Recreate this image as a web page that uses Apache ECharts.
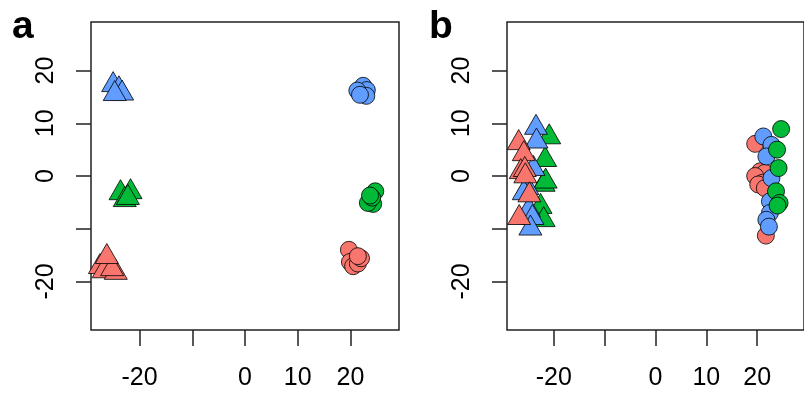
<!DOCTYPE html>
<html>
<head>
<meta charset="utf-8">
<script src="https://cdn.jsdelivr.net/npm/echarts@6/dist/echarts.min.js"></script>
<style>
  html, body { margin: 0; padding: 0; background: #fff; }
  #chart { width: 804px; height: 394px; }
</style>
</head>
<body>
<div id="chart"></div>
<script>
// tick positions and the labels R kept (the -10 label was dropped)
const tickValues = [-20, -10, 0, 10, 20];
const labelValues = [-20, 0, 10, 20];
const axisMin = -29.2, axisMax = 29.2;

const red = '#F8766D', green = '#00BA38', blue = '#619CFF';

// panel a
const aBlueTri = [[-25.0, 17.9], [-23.9, 17.1], [-23.3, 16.3], [-24.7, 16.2]];
const aGreenTri = [[-23.6, -2.6], [-21.7, -2.4], [-22.8, -3.9], [-22.2, -3.5]];
const aRedTri = [[-27.5, -16.6], [-26.8, -17.4], [-24.5, -17.7], [-25.2, -17.0], [-26.2, -14.7]];
const aBlueCirc = [[22.4, 17.1], [23.1, 16.3], [21.3, 16.2], [23.0, 15.2], [21.8, 15.4]];
const aGreenCirc = [[24.7, -2.9], [24.3, -5.3], [23.3, -5.1], [24.1, -4.1], [23.7, -3.7]];
const aRedCirc = [[19.7, -14.0], [19.9, -16.3], [20.5, -17.1], [21.4, -16.6], [22.0, -15.6], [21.4, -15.2]];

// panel b
const bGreenTri = [[-20.9, 8.0], [-21.7, 3.7], [-22.0, -1.0], [-22.6, -5.2], [-22.0, -7.7], [-21.6, -0.4]];
const bBlueTri = [[-23.5, 9.8], [-23.4, 7.2], [-24.0, 2.0], [-25.2, -1.6], [-25.9, -2.6], [-24.9, -5.8], [-24.2, -7.3], [-24.6, -9.3]];
const bRedTri = [[-26.9, 6.9], [-25.9, 4.8], [-26.5, 1.4], [-25.7, 1.8], [-25.6, 0.6], [-24.8, -3.0], [-26.8, -7.3]];
const bRedCirc = [[19.6, 6.1], [20.6, 0.9], [21.5, 0.6], [19.6, 0.0], [21.0, -1.3], [20.2, -1.6], [21.5, -2.3], [21.7, -11.3]];
const bGreenCirc = [[24.7, 8.9], [23.9, 5.0], [24.2, 1.5], [23.7, -2.9], [24.4, -5.1], [24.0, -5.6]];
const bBlueCirc = [[21.2, 7.5], [22.8, 5.9], [21.8, 3.7], [22.8, -0.4], [22.5, -4.8], [22.5, -7.0], [21.8, -8.3], [22.3, -9.6]];

const chart = echarts.init(document.getElementById('chart'));

function xAxisFor(i) {
  return {
    type: 'value', gridIndex: i, min: axisMin, max: axisMax,
    axisLine: { show: false, onZero: false },
    axisTick: { show: true, customValues: tickValues, length: 16, lineStyle: { color: '#222', width: 1.5 } },
    axisLabel: { customValues: labelValues, margin: 36, fontSize: 25, color: '#000', fontFamily: 'Liberation Sans' },
    splitLine: { show: false }
  };
}
function yAxisFor(i) {
  return {
    type: 'value', gridIndex: i, min: axisMin, max: axisMax,
    axisLine: { show: false, onZero: false },
    axisTick: { show: true, customValues: tickValues, length: 15, lineStyle: { color: '#222', width: 1.5 } },
    axisLabel: { customValues: labelValues, margin: 32, rotate: 90, fontSize: 25, color: '#000', fontFamily: 'Liberation Sans' },
    splitLine: { show: false }
  };
}

function tri(data, color, i) {
  return {
    type: 'scatter', data: data, xAxisIndex: i, yAxisIndex: i,
    symbol: 'triangle', symbolSize: [23, 20],
    itemStyle: { color: color, borderColor: '#000', borderWidth: 0.8, opacity: 1 }
  };
}
function circ(data, color, i) {
  return {
    type: 'scatter', data: data, xAxisIndex: i, yAxisIndex: i,
    symbol: 'circle', symbolSize: 17,
    itemStyle: { color: color, borderColor: '#000', borderWidth: 0.8, opacity: 1 }
  };
}

let option = {
  animation: false,
  grid: [
    { left: 91, top: 22, width: 308, height: 308, show: true, borderColor: '#222', borderWidth: 1.5 },
    { left: 507, top: 22, width: 308, height: 308, show: true, borderColor: '#222', borderWidth: 1.5 }
  ],
  xAxis: [xAxisFor(0), xAxisFor(1)],
  yAxis: [yAxisFor(0), yAxisFor(1)],
  graphic: [
    { type: 'text', left: 12, top: 8, style: { text: 'a', font: 'bold 39px "Liberation Sans"', fill: '#000' } },
    { type: 'text', left: 429, top: 8, style: { text: 'b', font: 'bold 39px "Liberation Sans"', fill: '#000' } }
  ],
  series: [
    tri(aBlueTri, blue, 0), tri(aGreenTri, green, 0), tri(aRedTri, red, 0),
    circ(aBlueCirc, blue, 0), circ(aGreenCirc, green, 0), circ(aRedCirc, red, 0),
    tri(bGreenTri, green, 1), tri(bBlueTri, blue, 1), tri(bRedTri, red, 1),
    circ(bRedCirc, red, 1), circ(bBlueCirc, blue, 1), circ(bGreenCirc, green, 1)
  ]
};

option && chart.setOption(option);
</script>
</body>
</html>
